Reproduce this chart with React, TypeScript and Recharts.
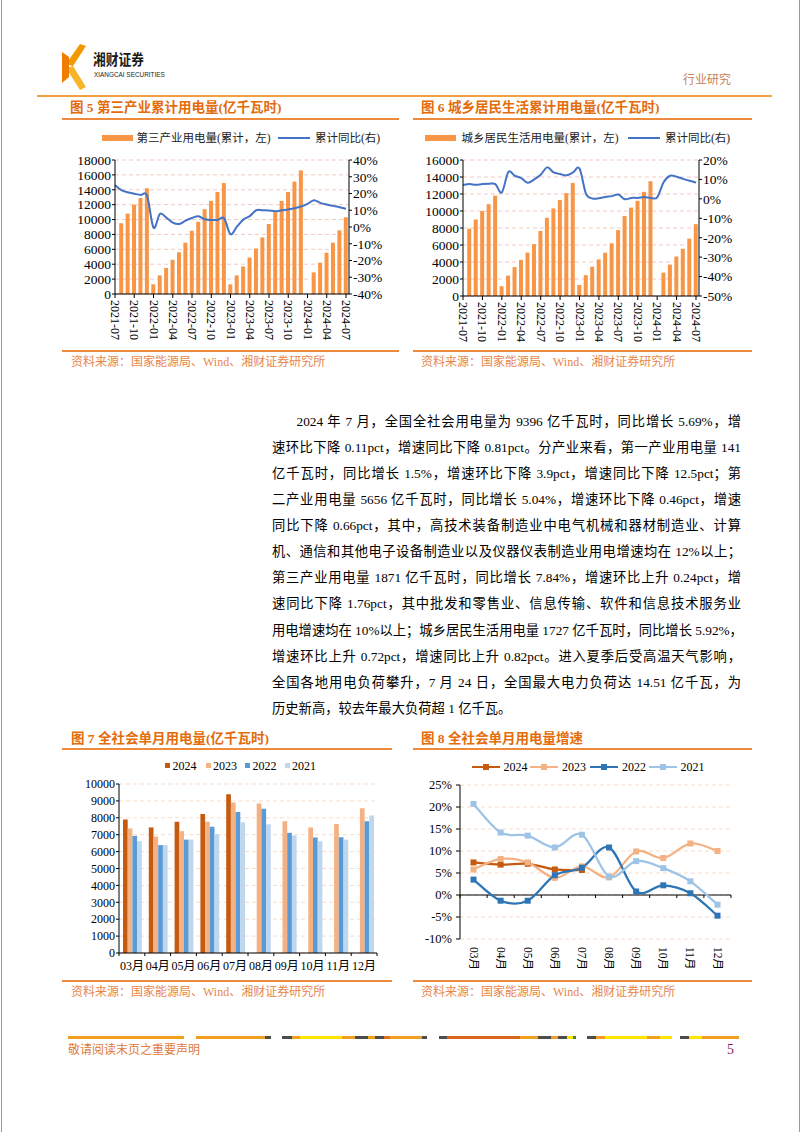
import React from 'react';
import {
  ComposedChart,
  BarChart,
  LineChart,
  Bar,
  Line,
  XAxis,
  YAxis,
  CartesianGrid,
  Legend,
  ReferenceLine,
} from 'recharts';

const SERIF = '"Liberation Serif", "Times New Roman", "Noto Sans CJK SC", serif';
const CJK = '"Liberation Serif", "Noto Sans CJK SC", sans-serif';

// ---------- Figure 5 / 6 data ----------
const months37 = [
  '2021-07', '2021-08', '2021-09', '2021-10', '2021-11', '2021-12',
  '2022-01', '2022-02', '2022-03', '2022-04', '2022-05', '2022-06',
  '2022-07', '2022-08', '2022-09', '2022-10', '2022-11', '2022-12',
  '2023-01', '2023-02', '2023-03', '2023-04', '2023-05', '2023-06',
  '2023-07', '2023-08', '2023-09', '2023-10', '2023-11', '2023-12',
  '2024-01', '2024-02', '2024-03', '2024-04', '2024-05', '2024-06', '2024-07',
];
const shownMonthTicks = [
  '2021-07', '2021-10', '2022-01', '2022-04', '2022-07', '2022-10', '2023-01',
  '2023-04', '2023-07', '2023-10', '2024-01', '2024-04', '2024-07',
];
const tertiaryCum = [
  null, 9500, 10800, 12000, 12900, 14200,
  1300, 2500, 3500, 4600, 5600, 6900,
  8500, 9700, 11400, 12500, 13700, 14900,
  1300, 2500, 3700, 4900, 6100, 7600,
  9400, 11000, 12500, 13700, 15100, 16600,
  null, 2900, 4200, 5550, 6900, 8550, 10300,
];
const tertiaryYoy = [
  25, 22, 20.7, 19.9, 19.1, 18.7,
  -0.4, 7.8, 5.6, 2.6, 1.8, 3.8,
  5.4, 6.4, 4.6, 4.2, 4.2, 5.2,
  -4.3, 0.2, 4.4, 6.5, 10, 10,
  9.9, 9.4, 10, 10.5, 11.2, 12.2,
  13.8, 16, 14.4, 13.4, 12.6, 11.8, 10.9,
];
const residentCum = [
  null, 7900, 9000, 10000, 10800, 11800,
  1150, 2400, 3400, 4250, 5100, 6100,
  7650, 9200, 10300, 11300, 12100, 13300,
  1300, 2450, 3450, 4300, 5100, 6200,
  7750, 9400, 10400, 11200, 12250, 13500,
  null, 2750, 3700, 4650, 5550, 6750, 8450,
];
const residentYoy = [
  7.2, 7.6, 7.2, 7.6, 7.8, 7.6,
  3.3, 13.8, 11.9, 10.7, 8.3, 10,
  12.4, 16.2, 13.6, 12.8, 12.1, 13.6,
  15.6, 2.7, 0.2, 0.3, 1, 1.4,
  2.2, -0.2, 0.5, 0.5, 0.9, 0.5,
  0.8, 8.6, 11.9, 11.4, 10.3, 9.3, 8.4,
];
const tertiaryLeftTicks = [0, 2000, 4000, 6000, 8000, 10000, 12000, 14000, 16000, 18000];
const tertiaryRightTicks = [-40, -30, -20, -10, 0, 10, 20, 30, 40];
const residentLeftTicks = [0, 2000, 4000, 6000, 8000, 10000, 12000, 14000, 16000];
const residentRightTicks = [-50, -40, -30, -20, -10, 0, 10, 20];

// ---------- Figure 7 / 8 data ----------
const monthCats = ['03月', '04月', '05月', '06月', '07月', '08月', '09月', '10月', '11月', '12月'];
const use2024 = [7900, 7430, 7760, 8220, 9396, null, null, null, null, null];
const use2023 = [7370, 6890, 7210, 7760, 8910, 8850, 7800, 7430, 7640, 8570];
const use2022 = [6930, 6380, 6710, 7470, 8340, 8530, 7110, 6830, 6850, 7800];
const use2021 = [6610, 6380, 6710, 7030, 7740, 7620, 6950, 6610, 6710, 8140];
const useTicks = [0, 1000, 2000, 3000, 4000, 5000, 6000, 7000, 8000, 9000, 10000];

const gr2024 = [7.4, 6.9, 7.1, 5.8, 5.69, null, null, null, null, null];
const gr2023 = [5.8, 8.2, 7.4, 3.9, 6.5, 4.0, 9.9, 8.4, 11.7, 10.0];
const gr2022 = [3.5, -1.3, -1.3, 4.5, 6.2, 10.8, 0.8, 2.2, 0.4, -4.7];
const gr2021 = [20.7, 14.2, 13.5, 10.8, 13.7, 4.2, 7.7, 6.1, 3.1, -2.2];
const grTicks = [-10, -5, 0, 5, 10, 15, 20, 25];

const yearNames = ['2024', '2023', '2022', '2021'];
const barYearColors = ['#C55A11', '#F4B183', '#5B9BD5', '#BDD7EE'];
const lineYearColors = ['#C55A11', '#F4B183', '#2E75B6', '#9DC3E6'];

const BAR_ORANGE = '#F79646';
const LINE_BLUE = '#4472C4';
const TITLE_COLOR = '#E46C0A';
const RULE_COLOR = '#EE8A3C';
const SOURCE_COLOR = '#E8864A';
const GRID_PINK = '#F3C9C4';
const GRID_PEACH = '#F8DCCB';

const bodyLines = [
  '2024 年 7 月，全国全社会用电量为 9396 亿千瓦时，同比增长 5.69%，增',
  '速环比下降 0.11pct，增速同比下降 0.81pct。分产业来看，第一产业用电量 141',
  '亿千瓦时，同比增长 1.5%，增速环比下降 3.9pct，增速同比下降 12.5pct；第',
  '二产业用电量 5656 亿千瓦时，同比增长 5.04%，增速环比下降 0.46pct，增速',
  '同比下降 0.66pct，其中，高技术装备制造业中电气机械和器材制造业、计算',
  '机、通信和其他电子设备制造业以及仪器仪表制造业用电增速均在 12%以上；',
  '第三产业用电量 1871 亿千瓦时，同比增长 7.84%，增速环比上升 0.24pct，增',
  '速同比下降 1.76pct，其中批发和零售业、信息传输、软件和信息技术服务业',
  '用电增速均在 10%以上；城乡居民生活用电量 1727 亿千瓦时，同比增长 5.92%，',
  '增速环比上升 0.72pct，增速同比上升 0.82pct。进入夏季后受高温天气影响，',
  '全国各地用电负荷攀升，7 月 24 日，全国最大电力负荷达 14.51 亿千瓦，为',
  '历史新高，较去年最大负荷超 1 亿千瓦。',
];

// Excel-like smoothed line (Catmull-Rom Bezier)
const excelSmooth: any = (context: any) => {
  let pts: number[][] = [];
  return {
    areaStart() {},
    areaEnd() {},
    lineStart() {
      pts = [];
    },
    lineEnd() {
      const n = pts.length;
      if (!n) return;
      context.moveTo(pts[0][0], pts[0][1]);
      if (n === 1) return;
      const t = 1 / 6;
      for (let i = 0; i < n - 1; i++) {
        const p0 = pts[i > 0 ? i - 1 : i];
        const p1 = pts[i];
        const p2 = pts[i + 1];
        const p3 = pts[i + 2 < n ? i + 2 : i + 1];
        context.bezierCurveTo(
          p1[0] + (p2[0] - p0[0]) * t,
          p1[1] + (p2[1] - p0[1]) * t,
          p2[0] - (p3[0] - p1[0]) * t,
          p2[1] - (p3[1] - p1[1]) * t,
          p2[0],
          p2[1]
        );
      }
    },
    point(x: number, y: number) {
      pts.push([+x, +y]);
    },
  };
};

const RotTick = (props: any) => {
  const { x, y, payload, labels, fontSize } = props;
  const label = labels ? labels[payload.value] : payload.value;
  return (
    <text
      x={x}
      y={y}
      transform={`rotate(90 ${x} ${y})`}
      textAnchor="start"
      dominantBaseline="central"
      fontSize={fontSize}
      fontFamily={CJK}
      fill="#000"
    >
      {label}
    </text>
  );
};

const SquareDot = (props: any) => {
  const { cx, cy, value, color, size } = props;
  if (cx == null || cy == null || value == null || Number.isNaN(cx) || Number.isNaN(cy)) {
    return <g key={props.key} />;
  }
  return <rect key={props.key} x={cx - size / 2} y={cy - size / 2} width={size} height={size} fill={color} />;
};

const AxisWithBoundaryTicks = (props: any) => {
  const { x1, y1, x2, y2, n, len } = props;
  if (x1 == null || x2 == null) return <g />;
  const marks = [];
  for (let k = 0; k <= n; k++) {
    const x = x1 + ((x2 - x1) * k) / n;
    marks.push(<line key={k} x1={x} x2={x} y1={y1} y2={y1 + len} stroke="#000" strokeWidth={1} />);
  }
  return (
    <g>
      <line x1={x1} y1={y1} x2={x2} y2={y2} stroke="#000" strokeWidth={1} />
      {marks}
    </g>
  );
};

type CumProps = {
  left: number;
  top: number;
  bars: (number | null)[];
  yoy: number[];
  leftTicks: number[];
  rightTicks: number[];
  plotLeft: number;
  plotRight: number;
  plotTop: number;
  plotBottom: number;
  barName: string;
  legendBarX: number;
  legendTextX: number;
};

function CumChart(p: CumProps) {
  const W = 345;
  const H = 225;
  const data = months37.map((m, i) => ({ i, m, bar: p.bars[i], yoy: p.yoy[i] }));
  const tickIdx = shownMonthTicks.map((m) => months37.indexOf(m));
  return (
    <div style={{ position: 'absolute', left: p.left, top: p.top }}>
      <ComposedChart width={W} height={H} data={data} margin={{ top: p.plotTop, right: 0, bottom: 0, left: 0 }}>
        <CartesianGrid yAxisId="l" vertical={false} stroke={GRID_PINK} strokeDasharray="4 3" />
        <XAxis
          dataKey="i"
          type="number"
          domain={[0, months37.length - 1]}
          ticks={tickIdx}
          interval={0}
          padding={{ left: 0, right: 3 }}
          height={H - p.plotBottom}
          axisLine={{ stroke: '#000' }}
          tickLine={{ stroke: '#000' }}
          tickSize={4}
          tickMargin={2}
          tick={(tp: any) => <RotTick {...tp} labels={months37} fontSize={12} />}
        />
        <YAxis
          yAxisId="l"
          width={p.plotLeft}
          domain={[p.leftTicks[0], p.leftTicks[p.leftTicks.length - 1]]}
          ticks={p.leftTicks}
          interval={0}
          axisLine={{ stroke: '#000' }}
          tickLine={{ stroke: '#000' }}
          tickSize={3}
          tickMargin={1}
          tick={{ fontSize: 13.5, fontFamily: SERIF, fill: '#000' }}
        />
        <YAxis
          yAxisId="r"
          orientation="right"
          width={W - p.plotRight}
          domain={[p.rightTicks[0], p.rightTicks[p.rightTicks.length - 1]]}
          ticks={p.rightTicks}
          interval={0}
          tickFormatter={(v: number) => `${v}%`}
          axisLine={{ stroke: '#000' }}
          tickLine={{ stroke: '#000' }}
          tickSize={3}
          tickMargin={1}
          tick={{ fontSize: 13.5, fontFamily: SERIF, fill: '#000' }}
        />
        <Bar yAxisId="l" dataKey="bar" fill={BAR_ORANGE} barSize={4} isAnimationActive={false} />
        <Line
          yAxisId="r"
          dataKey="yoy"
          stroke={LINE_BLUE}
          strokeWidth={2}
          dot={false}
          type={excelSmooth}
          isAnimationActive={false}
        />
        <Legend
          layout="vertical"
          verticalAlign="middle"
          align="center"
          wrapperStyle={{ top: 5, left: 0, width: W, height: 16 }}
          content={() => (
            <div style={{ position: 'relative', width: W, height: 16, fontFamily: CJK, fontSize: 11.5, color: '#222' }}>
              <div style={{ position: 'absolute', left: p.legendBarX, top: 5, width: 31, height: 6, background: BAR_ORANGE }} />
              <span style={{ position: 'absolute', left: p.legendTextX, top: 0, lineHeight: '16px', whiteSpace: 'nowrap' }}>
                {p.barName}
              </span>
              <div style={{ position: 'absolute', left: 218, top: 7, width: 32, height: 2, background: LINE_BLUE }} />
              <span style={{ position: 'absolute', left: 255, top: 0, lineHeight: '16px', whiteSpace: 'nowrap' }}>
                累计同比(右)
              </span>
            </div>
          )}
        />
      </ComposedChart>
    </div>
  );
}

function MonthlyUseChart() {
  const W = 330;
  const H = 225;
  const data = monthCats.map((m, i) => ({ m, y2024: use2024[i], y2023: use2023[i], y2022: use2022[i], y2021: use2021[i] }));
  const keys = ['y2024', 'y2023', 'y2022', 'y2021'];
  const legendX = [105, 145.5, 185, 224.5];
  return (
    <div style={{ position: 'absolute', left: 60, top: 755 }}>
      <BarChart width={W} height={H} data={data} margin={{ top: 29, right: 13, bottom: 0, left: 0 }} barGap={0}>
        <CartesianGrid vertical={false} stroke={GRID_PEACH} strokeDasharray="4 3" />
        <XAxis
          dataKey="m"
          interval={0}
          axisLine={false}
          tickLine={false}
          tickSize={0}
          tickMargin={8}
          height={27}
          tick={{ fontSize: 12, fontFamily: CJK, fill: '#000' }}
        />
        <YAxis
          width={59}
          domain={[0, 10000]}
          ticks={useTicks}
          interval={0}
          axisLine={{ stroke: '#000' }}
          tickLine={{ stroke: '#000' }}
          tickSize={3}
          tickMargin={1}
          tick={{ fontSize: 12, fontFamily: SERIF, fill: '#000' }}
        />
        {keys.map((k, i) => (
          <Bar key={k} dataKey={k} fill={barYearColors[i]} barSize={4.7} isAnimationActive={false} />
        ))}
        <ReferenceLine y={0} ifOverflow="visible" shape={(sp: any) => <AxisWithBoundaryTicks {...sp} n={monthCats.length} len={3} />} />
        <Legend
          layout="vertical"
          verticalAlign="middle"
          align="center"
          wrapperStyle={{ top: 3, left: 0, width: W, height: 16 }}
          content={() => (
            <div style={{ position: 'relative', width: W, height: 16, fontFamily: SERIF, fontSize: 12, color: '#000' }}>
              {yearNames.map((y, i) => (
                <React.Fragment key={y}>
                  <div style={{ position: 'absolute', left: legendX[i], top: 5, width: 5, height: 5, background: barYearColors[i] }} />
                  <span style={{ position: 'absolute', left: legendX[i] + 7.5, top: 0, lineHeight: '16px' }}>{y}</span>
                </React.Fragment>
              ))}
            </div>
          )}
        />
      </BarChart>
    </div>
  );
}

function GrowthChart() {
  const W = 340;
  const H = 230;
  const data = monthCats.map((m, i) => ({ m, y2024: gr2024[i], y2023: gr2023[i], y2022: gr2022[i], y2021: gr2021[i] }));
  const keys = ['y2024', 'y2023', 'y2022', 'y2021'];
  const legendX = [61.5, 120, 180, 238.5];
  return (
    <div style={{ position: 'absolute', left: 410, top: 755 }}>
      <LineChart width={W} height={H} data={data} margin={{ top: 30, right: 19, bottom: 0, left: 0 }}>
        <CartesianGrid vertical={false} stroke={GRID_PEACH} strokeDasharray="4 3" />
        <XAxis
          dataKey="m"
          interval={0}
          axisLine={false}
          tickLine={false}
          tickSize={0}
          tickMargin={8}
          height={46}
          padding={{ left: 13.5, right: 13.5 }}
          tick={(tp: any) => <RotTick {...tp} fontSize={11.5} />}
        />
        <YAxis
          width={50}
          domain={[-10, 25]}
          ticks={grTicks}
          interval={0}
          tickFormatter={(v: number) => `${v}%`}
          axisLine={{ stroke: '#000' }}
          tickLine={{ stroke: '#000' }}
          tickSize={4}
          tickMargin={4}
          tick={{ fontSize: 12.5, fontFamily: SERIF, fill: '#000' }}
        />
        <ReferenceLine y={0} shape={(sp: any) => <AxisWithBoundaryTicks {...sp} n={monthCats.length} len={3} />} />
        {keys.map((k, i) => (
          <Line
            key={k}
            dataKey={k}
            stroke={lineYearColors[i]}
            strokeWidth={2.25}
            type={excelSmooth}
            isAnimationActive={false}
            dot={(dp: any) => <SquareDot {...dp} color={lineYearColors[i]} size={6} />}
            activeDot={false}
          />
        ))}
        <Legend
          layout="vertical"
          verticalAlign="middle"
          align="center"
          wrapperStyle={{ top: 4, left: 0, width: W, height: 16 }}
          content={() => (
            <div style={{ position: 'relative', width: W, height: 16, fontFamily: SERIF, fontSize: 12, color: '#000' }}>
              {yearNames.map((y, i) => (
                <React.Fragment key={y}>
                  <div style={{ position: 'absolute', left: legendX[i], top: 7, width: 28, height: 2.25, background: lineYearColors[i] }} />
                  <div style={{ position: 'absolute', left: legendX[i] + 11, top: 5, width: 6, height: 6, background: lineYearColors[i] }} />
                  <span style={{ position: 'absolute', left: legendX[i] + 32, top: 0, lineHeight: '16px' }}>{y}</span>
                </React.Fragment>
              ))}
            </div>
          )}
        />
      </LineChart>
    </div>
  );
}

const footerSegs: [number, number, string][] = [
  [68, 184, '#F0A01E'], [196, 265, '#F0A01E'], [265, 271, '#4D4D4D'], [282, 292, '#4D4D4D'],
  [292, 300, '#F0A01E'], [300, 342, '#FFE500'], [342, 355, '#F0A01E'], [355, 368, '#4D4D4D'],
  [368, 375, '#F0A01E'], [375, 384, '#4D4D4D'], [384, 390, '#E07020'], [390, 422, '#F0A01E'],
  [422, 427, '#4D4D4D'], [439, 447, '#4D4D4D'], [447, 520, '#D9661A'], [520, 538, '#F0A01E'],
  [538, 551, '#4D4D4D'], [551, 558, '#F0A01E'], [558, 567, '#4D4D4D'], [567, 573, '#FFE500'],
  [573, 576, '#3A8A3A'], [587, 596, '#4D4D4D'], [596, 605, '#F0A01E'], [605, 647, '#FFE500'],
  [647, 660, '#F0A01E'], [660, 672, '#FFE500'], [680, 689, '#4D4D4D'], [689, 702, '#FFE500'],
  [702, 739, '#F0A01E'],
];

const abs = (l: number, t: number, extra: any = {}) => ({ position: 'absolute' as const, left: l, top: t, ...extra });

function Title({ x, y, text }: { x: number; y: number; text: string }) {
  return (
    <div style={abs(x, y - 10, { fontFamily: CJK, fontSize: 13.5, fontWeight: 700, color: TITLE_COLOR, lineHeight: '20px', whiteSpace: 'nowrap' })}>
      {text}
    </div>
  );
}

function Rule({ x1, x2, y, h = 2 }: { x1: number; x2: number; y: number; h?: number }) {
  return <div style={abs(x1, y - h / 2, { width: x2 - x1, height: h, background: RULE_COLOR })} />;
}

function Source({ x, y }: { x: number; y: number }) {
  return (
    <div style={abs(x, y - 9, { fontFamily: CJK, fontSize: 12, color: SOURCE_COLOR, lineHeight: '18px', whiteSpace: 'nowrap' })}>
      资料来源：国家能源局、Wind、湘财证券研究所
    </div>
  );
}

export default function App() {
  return (
    <div style={{ position: 'absolute', left: 0, top: 0, width: 802, height: 1133, background: '#fff', overflow: 'hidden' }}>
      {/* page border */}
      <div style={abs(1, 0, { width: 799, height: 1132, borderLeft: '1px solid #9a9a9a', borderRight: '1px solid #9a9a9a', boxSizing: 'border-box' })} />

      {/* header */}
      <svg style={abs(60, 43)} width={28} height={48} viewBox="0 0 28 48">
        <polygon points="20,1 26,3 13,23 6,21" fill="#F39800" />
        <polygon points="6,25 13,23 26,44 20,47" fill="#F7B52C" />
        <polygon points="2,9 9,14 9,34 2,40" fill="#EE7D00" />
      </svg>
      <div style={abs(93, 50, { fontFamily: '"Noto Sans CJK SC", sans-serif', fontSize: 14.5, fontWeight: 700, color: '#1a1a1a', lineHeight: '18px', transform: 'scaleX(0.88)', transformOrigin: 'left top', whiteSpace: 'nowrap' })}>
        湘财证券
      </div>
      <div style={abs(93.5, 70, { fontFamily: '"Liberation Sans", sans-serif', fontSize: 8, color: '#1a1a1a', lineHeight: '10px', transform: 'scaleX(0.8)', transformOrigin: 'left top', whiteSpace: 'nowrap' })}>
        XIANGCAI SECURITIES
      </div>
      <div style={abs(683, 72, { fontFamily: CJK, fontSize: 12, color: '#C98256', lineHeight: '16px', whiteSpace: 'nowrap' })}>行业研究</div>
      <div style={abs(37, 95, { width: 735, height: 2, background: '#F0A040' })} />

      {/* figure 5 & 6 */}
      <Title x={70} y={108} text="图 5  第三产业累计用电量(亿千瓦时)" />
      <Rule x1={62} x2={399} y={118.5} />
      <Title x={421} y={108} text="图 6  城乡居民生活累计用电量(亿千瓦时)" />
      <Rule x1={413} x2={752} y={118.5} />

      <CumChart
        left={60}
        top={125}
        bars={tertiaryCum}
        yoy={tertiaryYoy}
        leftTicks={tertiaryLeftTicks}
        rightTicks={tertiaryRightTicks}
        plotLeft={55}
        plotRight={289}
        plotTop={35}
        plotBottom={169}
        barName="第三产业用电量(累计，左)"
        legendBarX={41.5}
        legendTextX={76.5}
      />
      <CumChart
        left={410}
        top={125}
        bars={residentCum}
        yoy={residentYoy}
        leftTicks={residentLeftTicks}
        rightTicks={residentRightTicks}
        plotLeft={53}
        plotRight={289}
        plotTop={35}
        plotBottom={171}
        barName="城乡居民生活用电量(累计，左)"
        legendBarX={15}
        legendTextX={51.5}
      />

      <Rule x1={62} x2={399} y={351} h={1.5} />
      <Rule x1={413} x2={752} y={351} h={1.5} />
      <Source x={71} y={361.5} />
      <Source x={421} y={361.5} />

      {/* body text */}
      {bodyLines.map((line, i) => {
        const last = i === bodyLines.length - 1;
        const x = i === 0 ? 296.5 : 272;
        return (
          <div
            key={i}
            style={abs(x, 421.7 + i * 26.1 - 13, {
              width: 741 - x,
              fontFamily: CJK,
              fontSize: 13.3,
              lineHeight: '26px',
              color: '#000',
              whiteSpace: 'nowrap',
              textAlign: last ? 'left' : 'justify',
              textAlignLast: last ? 'left' : 'justify',
            })}
          >
            {line}
          </div>
        );
      })}

      {/* figure 7 & 8 */}
      <Title x={71} y={738.5} text="图 7  全社会单月用电量(亿千瓦时)" />
      <Rule x1={62} x2={392} y={748.5} />
      <Title x={421} y={738.5} text="图 8  全社会单月用电量增速" />
      <Rule x1={413} x2={752} y={748.5} />

      <MonthlyUseChart />
      <GrowthChart />

      <Rule x1={62} x2={392} y={981} h={1.5} />
      <Rule x1={413} x2={752} y={981} h={1.5} />
      <Source x={71} y={992} />
      <Source x={421} y={992} />

      {/* footer */}
      {footerSegs.map(([a, b, c], i) => (
        <div key={i} style={abs(a, 1035.5, { width: b - a, height: 3, background: c })} />
      ))}
      <div style={abs(68, 1042, { fontFamily: CJK, fontSize: 12, color: '#E07B39', lineHeight: '16px', whiteSpace: 'nowrap' })}>
        敬请阅读末页之重要声明
      </div>
      <div style={abs(727, 1042, { fontFamily: SERIF, fontSize: 14, color: '#8B1A4A', lineHeight: '16px' })}>5</div>
    </div>
  );
}
